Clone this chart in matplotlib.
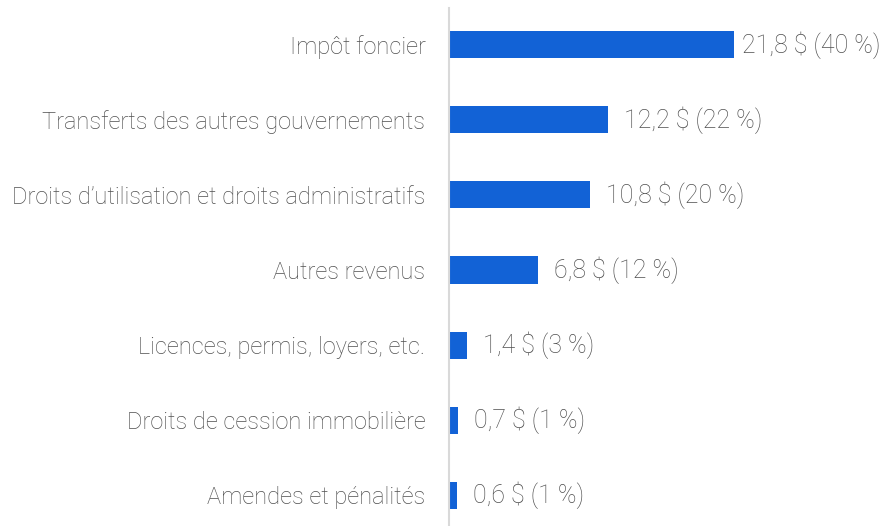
import matplotlib
matplotlib.use('agg')
import matplotlib.pyplot as plt

categories = [
    "Impôt foncier",
    "Transferts des autres gouvernements",
    "Droits d\u2019utilisation et droits administratifs",
    "Autres revenus",
    "Licences, permis, loyers, etc.",
    "Droits de cession immobilière",
    "Amendes et pénalités",
]
values = [21.8, 12.2, 10.8, 6.8, 1.4, 0.7, 0.6]
labels = ["21,8 $ (40 %)", "12,2 $ (22 %)", "10,8 $ (20 %)", "6,8 $ (12 %)",
          "1,4 $ (3 %)", "0,7 $ (1 %)", "0,6 $ (1 %)"]

plt.rcParams['font.family'] = ['Roboto', 'DejaVu Sans']
text_color = '#505050'
bar_color = '#1262D6'

fig = plt.figure(figsize=(8.84, 5.26), dpi=100)
ax = fig.add_axes([449 / 884, 0.0, 435 / 884, 1 - 8 / 526])

y = list(range(len(categories)))
ax.barh(y, values, height=0.36, color=bar_color)
ax.set_ylim(6.413, -0.493)
ax.set_xlim(0, 33.3)

for i, (v, lab) in enumerate(zip(values, labels)):
    off = 6 if i == 0 else 11.5
    ax.annotate(lab, (v, i), xytext=(off, 0), textcoords='offset points',
                va='center', ha='left', fontsize=18, color=text_color,
                fontweight='light')

ax.set_yticks(y)
ax.set_yticklabels(categories, fontsize=17, color=text_color, fontweight='light')
ax.tick_params(axis='y', length=0, pad=17)
ax.set_xticks([])
for s in ['top', 'right', 'bottom']:
    ax.spines[s].set_visible(False)
ax.spines['left'].set_color('#D9D9D9')
ax.spines['left'].set_linewidth(1.5)

fig.savefig('out.png', dpi=100)
